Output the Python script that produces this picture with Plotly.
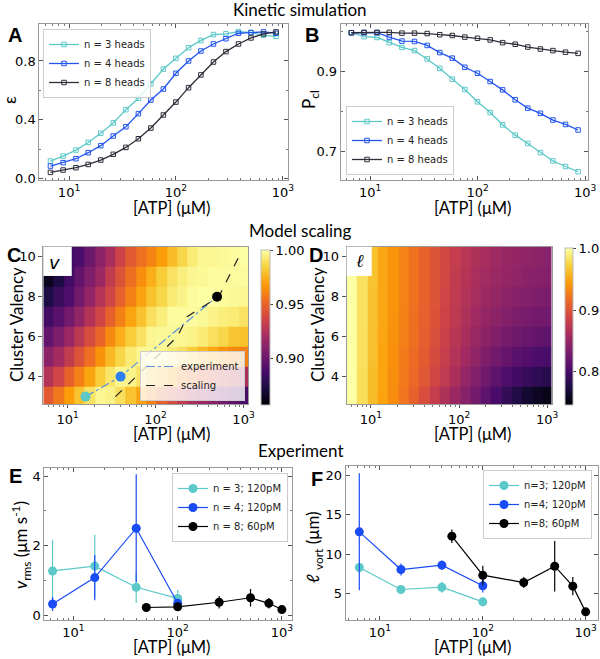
import plotly.graph_objects as go

# ---------------- data ----------------
# Panel A / B: kinetic simulation
atp_sim = [6.7, 8.8, 11.6, 15.1, 19.8, 25.9, 34.0, 44.5, 58.2, 76.2, 99.8, 131, 171, 224, 293, 384, 502, 658, 861]
eps_n3 = [0.118, 0.152, 0.193, 0.245, 0.307, 0.378, 0.468, 0.546, 0.645, 0.745, 0.818, 0.890, 0.940, 0.980, 0.985, 1.0, 0.995, 0.975, 0.968]
eps_n4 = [0.084, 0.107, 0.134, 0.175, 0.223, 0.289, 0.352, 0.441, 0.534, 0.609, 0.716, 0.800, 0.868, 0.916, 0.952, 0.989, 0.993, 0.998, 0.989]
eps_n8 = [0.041, 0.057, 0.073, 0.095, 0.125, 0.164, 0.211, 0.270, 0.343, 0.432, 0.520, 0.618, 0.705, 0.793, 0.864, 0.916, 0.957, 0.984, 0.998]
pcl_n3 = [0.998, 0.988, 0.986, 0.973, 0.961, 0.953, 0.932, 0.908, 0.881, 0.855, 0.824, 0.797, 0.766, 0.740, 0.719, 0.696, 0.675, 0.661, 0.648]
pcl_n4 = [0.998, 0.998, 0.998, 0.987, 0.977, 0.976, 0.966, 0.948, 0.934, 0.911, 0.896, 0.875, 0.854, 0.829, 0.808, 0.795, 0.778, 0.767, 0.753]
pcl_n8 = [0.998, 0.999, 0.999, 0.999, 0.997, 0.997, 0.996, 0.993, 0.991, 0.987, 0.984, 0.980, 0.973, 0.969, 0.962, 0.957, 0.953, 0.949, 0.946]
sim_names = ["n = 3 heads", "n = 4 heads", "n = 8 heads"]

# Panel C / D: model scaling heatmaps (rows: valency 3..10, columns: ATP bins)
atp_edges = [5.3, 6.95, 9.1, 11.9, 15.6, 20.4, 26.7, 35.0, 45.8, 60.0, 78.6, 103, 135, 176, 231, 302, 396, 518, 679, 889, 1124]
valency_edges = [2.5, 3.5, 4.5, 5.5, 6.5, 7.5, 8.5, 9.5, 10.5]
v_map = [
    [0.946, 0.957, 0.969, 0.980, 0.990, 0.997, 0.996, 0.989, 0.980, 0.971, 0.960, 0.949, 0.940, 0.931, 0.923, 0.917, 0.911, 0.903, 0.897, 0.888],  # 3
    [0.926, 0.937, 0.949, 0.960, 0.971, 0.983, 0.991, 0.997, 0.996, 0.990, 0.983, 0.976, 0.969, 0.961, 0.954, 0.947, 0.940, 0.934, 0.929, 0.923],  # 4
    [0.911, 0.920, 0.931, 0.943, 0.954, 0.966, 0.977, 0.986, 0.993, 0.997, 0.998, 0.997, 0.993, 0.989, 0.983, 0.977, 0.971, 0.966, 0.963, 0.960],  # 5
    [0.897, 0.906, 0.917, 0.929, 0.940, 0.951, 0.963, 0.974, 0.983, 0.990, 0.997, 0.998, 0.998, 0.997, 0.996, 0.993, 0.989, 0.986, 0.981, 0.979],  # 6
    [0.886, 0.894, 0.903, 0.914, 0.926, 0.937, 0.949, 0.960, 0.971, 0.980, 0.989, 0.994, 0.999, 0.999, 0.999, 0.998, 0.996, 0.994, 0.993, 0.990],  # 7
    [0.874, 0.883, 0.891, 0.903, 0.914, 0.926, 0.937, 0.949, 0.960, 0.971, 0.980, 0.986, 0.993, 0.996, 0.999, 1.000, 1.000, 0.999, 0.998, 0.997],  # 8
    [0.864, 0.874, 0.886, 0.897, 0.907, 0.917, 0.931, 0.943, 0.954, 0.964, 0.974, 0.983, 0.990, 0.994, 0.997, 0.998, 0.999, 0.999, 0.999, 0.999],  # 9
    [0.871, 0.878, 0.886, 0.889, 0.900, 0.911, 0.922, 0.936, 0.946, 0.954, 0.961, 0.969, 0.978, 0.986, 0.993, 0.997, 0.997, 0.998, 0.999, 1.000],  # 10
]
l_map = [
    [1.0, 0.980, 0.962, 0.947, 0.935, 0.922, 0.910, 0.895, 0.880, 0.865, 0.852, 0.840, 0.828, 0.815, 0.802, 0.790, 0.778, 0.767, 0.760, 0.755],  # 3
    [1.0, 0.980, 0.962, 0.948, 0.936, 0.925, 0.914, 0.902, 0.889, 0.876, 0.862, 0.849, 0.837, 0.825, 0.815, 0.806, 0.798, 0.791, 0.786, 0.782],  # 4
    [1.0, 0.981, 0.963, 0.948, 0.937, 0.926, 0.916, 0.905, 0.893, 0.881, 0.868, 0.856, 0.845, 0.835, 0.826, 0.819, 0.813, 0.808, 0.804, 0.801],  # 5
    [1.0, 0.981, 0.963, 0.949, 0.938, 0.928, 0.918, 0.907, 0.896, 0.884, 0.872, 0.861, 0.851, 0.843, 0.836, 0.830, 0.825, 0.821, 0.818, 0.815],  # 6
    [1.0, 0.982, 0.964, 0.950, 0.939, 0.929, 0.919, 0.909, 0.898, 0.886, 0.875, 0.865, 0.856, 0.849, 0.843, 0.838, 0.834, 0.831, 0.828, 0.826],  # 7
    [1.0, 0.982, 0.964, 0.950, 0.940, 0.930, 0.920, 0.910, 0.900, 0.888, 0.877, 0.868, 0.860, 0.853, 0.848, 0.843, 0.840, 0.837, 0.835, 0.833],  # 8
    [1.0, 0.982, 0.965, 0.950, 0.940, 0.930, 0.920, 0.910, 0.900, 0.890, 0.878, 0.870, 0.863, 0.857, 0.852, 0.848, 0.845, 0.842, 0.840, 0.838],  # 9
    [1.0, 0.983, 0.965, 0.950, 0.940, 0.930, 0.920, 0.910, 0.900, 0.890, 0.880, 0.872, 0.865, 0.860, 0.855, 0.850, 0.848, 0.845, 0.843, 0.840],  # 10
]
exp_atp = [16, 40, 500]
exp_valency = [3, 4, 8]
scaling_atp = [35, 60, 103, 177, 229, 525, 680, 885]
scaling_valency = [3, 4, 5, 6, 7, 8, 9, 10]

# Panel E / F: experiment
atp_exp34 = [6.3, 16, 40, 100]
atp_exp8 = [50, 100, 250, 500, 750, 1000]
vrms_n3 = [1.27, 1.41, 0.80, 0.48]
vrms_n3_err = [0.9, 0.9, 0.45, 0.25]
vrms_n4 = [0.32, 1.08, 2.50, 0.34]
vrms_n4_err = [0.2, 0.65, 1.55, 0.1]
vrms_n8 = [0.22, 0.24, 0.37, 0.50, 0.34, 0.16]
vrms_n8_err = [0.05, 0.05, 0.18, 0.25, 0.15, 0.05]
lvort_n3 = [8.31, 5.53, 5.82, 3.97]
lvort_n3_err = [0.4, 0.3, 0.7, 0.3]
lvort_n4 = [12.83, 8.06, 8.61, 6.00]
lvort_n4_err = [7.4, 0.75, 0.6, 0.85]
lvort_n8 = [12.28, 7.34, 6.41, 8.48, 5.95, 2.70]
lvort_n8_err = [0.85, 1.2, 0.7, 3.2, 1.15, 0.4]
exp_names_e = ["n = 3; 120pM", "n = 4; 120pM", "n = 8; 60pM"]
exp_names_f = ["n=3; 120pM", "n=4; 120pM", "n=8; 60pM"]

# ---------------- styles ----------------
CYAN = "#5cc8c8"
BLUE = "#2255ee"
DARK = "#2e2e3a"
BLACK = "#000000"
GRID = "#9a9a9a"
TICKF = dict(family="DejaVu Sans", size=13, color="black")
LABF = dict(family="Lato", size=17, color="black")
W, H = 600, 659

def fx(px):
    return px / W

def fy(py):
    return 1 - py / H

def dom_x(a, b):
    return [fx(a), fx(b)]

def dom_y(top, bottom):
    return [fy(bottom), fy(top)]

decade_vals = [10, 100, 1000]
decade_text = ["10<sup>1</sup>", "10<sup>2</sup>", "10<sup>3</sup>"]
minor_vals = [5, 6, 7, 8, 9, 20, 30, 40, 50, 60, 70, 80, 90, 200, 300, 400, 500, 600, 700, 800, 900]

fig = go.Figure()

# Panel A
for yv, col, nm in zip([eps_n3, eps_n4, eps_n8], [CYAN, BLUE, DARK], sim_names):
    fig.add_trace(go.Scatter(x=atp_sim, y=yv, name=nm, mode="lines+markers",
                             line=dict(color=col, width=1.3),
                             marker=dict(symbol="square-open", size=4.5, color=col, line=dict(width=1)),
                             xaxis="x", yaxis="y", legend="legend"))
# Panel B
for yv, col, nm in zip([pcl_n3, pcl_n4, pcl_n8], [CYAN, BLUE, DARK], sim_names):
    fig.add_trace(go.Scatter(x=atp_sim, y=yv, name=nm, mode="lines+markers",
                             line=dict(color=col, width=1.3),
                             marker=dict(symbol="square-open", size=4.5, color=col, line=dict(width=1)),
                             xaxis="x2", yaxis="y2", legend="legend2"))

# Panel C
fig.add_trace(go.Heatmap(x=atp_edges, y=valency_edges, z=v_map, coloraxis="coloraxis",
                         xaxis="x3", yaxis="y3", showlegend=False))
fig.add_trace(go.Scatter(x=exp_atp, y=exp_valency, name="experiment", mode="lines",
                         line=dict(color="#5a92e0", width=1.2, dash="dashdot"),
                         xaxis="x3", yaxis="y3", legend="legend3"))
fig.add_trace(go.Scatter(x=scaling_atp, y=scaling_valency, name="scaling", mode="lines",
                         line=dict(color="#222222", width=1.2, dash="dash"),
                         xaxis="x3", yaxis="y3", legend="legend3"))
fig.add_trace(go.Scatter(x=exp_atp, y=exp_valency, mode="markers", showlegend=False,
                         marker=dict(size=10, color=[CYAN, "#2f80f0", BLACK]),
                         xaxis="x3", yaxis="y3"))

# Panel D
fig.add_trace(go.Heatmap(x=atp_edges, y=valency_edges, z=l_map, coloraxis="coloraxis2",
                         xaxis="x4", yaxis="y4", showlegend=False))

# Panel E
for xv, yv, ev, col, nm in zip([atp_exp34, atp_exp34, atp_exp8],
                               [vrms_n3, vrms_n4, vrms_n8],
                               [vrms_n3_err, vrms_n4_err, vrms_n8_err],
                               [CYAN, "#1a4cf5", BLACK], exp_names_e):
    fig.add_trace(go.Scatter(x=xv, y=yv, name=nm, mode="lines+markers",
                             line=dict(color=col, width=1.2),
                             marker=dict(size=9, color=col),
                             error_y=dict(type="data", array=ev, color=col, thickness=1.2, width=0),
                             xaxis="x5", yaxis="y5", legend="legend4"))
# Panel F
for xv, yv, ev, col, nm in zip([atp_exp34, atp_exp34, atp_exp8],
                               [lvort_n3, lvort_n4, lvort_n8],
                               [lvort_n3_err, lvort_n4_err, lvort_n8_err],
                               [CYAN, "#1a4cf5", BLACK], exp_names_f):
    fig.add_trace(go.Scatter(x=xv, y=yv, name=nm, mode="lines+markers",
                             line=dict(color=col, width=1.2),
                             marker=dict(size=9, color=col),
                             error_y=dict(type="data", array=ev, color=col, thickness=1.2, width=0),
                             xaxis="x6", yaxis="y6", legend="legend5"))

def xlog(domain, rng, anchor, ticks="inside", mirror="allticks", ticklen=4):
    return dict(type="log", domain=domain, range=rng, anchor=anchor,
                tickmode="array", tickvals=decade_vals, ticktext=decade_text,
                ticks=ticks, ticklen=ticklen, tickcolor="#555", tickwidth=1,
                minor=dict(tickmode="array", tickvals=minor_vals, ticks=ticks, ticklen=2, tickcolor="#777"),
                showline=True, linecolor=GRID, linewidth=1, mirror=mirror,
                showgrid=False, zeroline=False, tickfont=TICKF, automargin=False)

def ylin(domain, rng, anchor, tickvals, minor_vals_y, ticks="inside", mirror="allticks", ticktext=None):
    d = dict(domain=domain, range=rng, anchor=anchor, tickmode="array", tickvals=tickvals,
             ticks=ticks, ticklen=4, tickcolor="#555", tickwidth=1,
             showline=True, linecolor=GRID, linewidth=1, mirror=mirror,
             showgrid=False, zeroline=False, tickfont=TICKF, automargin=False)
    if ticktext is not None:
        d["ticktext"] = ticktext
    if minor_vals_y:
        d["minor"] = dict(tickmode="array", tickvals=minor_vals_y, ticks=ticks, ticklen=2, tickcolor="#777")
    return d

legend_common = dict(bgcolor="rgba(255,255,255,0.8)", bordercolor="#cccccc", borderwidth=1,
                     font=dict(family="DejaVu Sans", size=10, color="#222"),
                     itemwidth=30, tracegroupgap=0)

fig.update_layout(
    width=W, height=H, margin=dict(l=0, r=0, t=0, b=0, autoexpand=False),
    paper_bgcolor="white", plot_bgcolor="white",
    xaxis=xlog(dom_x(39.3, 288.3), [0.722, 3.05], "y"),
    yaxis=ylin(dom_y(24, 180), [-0.011, 1.052], "x", [0.0, 0.4, 0.8], [0.2, 0.6],
               ticktext=["0.0", "0.4", "0.8"]),
    xaxis2=xlog(dom_x(340.7, 588.3), [0.727, 3.03], "y2"),
    yaxis2=ylin(dom_y(24, 180), [0.627, 1.02], "x2", [0.7, 0.9], [0.8, 1.0]),
    xaxis3=xlog(dom_x(43.3, 248), [0.7243, 3.0508], "y3", ticks="outside", mirror=True, ticklen=3),
    yaxis3=ylin(dom_y(246.7, 404), [2.63, 10.5], "x3", [4, 6, 8, 10], None,
                ticks="outside", mirror=True),
    xaxis4=xlog(dom_x(346.7, 551.7), [0.7243, 3.0508], "y4", ticks="outside", mirror=True, ticklen=3),
    yaxis4=ylin(dom_y(246.7, 404), [2.63, 10.5], "x4", [4, 6, 8, 10], None,
                ticks="outside", mirror=True),
    xaxis5=xlog(dom_x(44.3, 292.3), [0.72, 3.10], "y5"),
    yaxis5=ylin(dom_y(467.7, 620), [-0.14, 4.24], "x5", [0, 2, 4], [1, 3]),
    xaxis6=xlog(dom_x(345.7, 597.7), [0.667, 3.117], "y6"),
    yaxis6=ylin(dom_y(465.7, 620), [1.67, 21.2], "x6", [5, 10, 15, 20], None),
    coloraxis=dict(colorscale="Inferno", cmin=0.857, cmax=1.0,
                   colorbar=dict(x=fx(261), xanchor="left", y=fy(250), yanchor="top",
                                 len=155 / H, lenmode="fraction", thickness=9, xpad=0, ypad=0,
                                 outlinewidth=1, outlinecolor="#bbbbbb",
                                 tickmode="array", tickvals=[0.90, 0.95, 1.00],
                                 ticktext=["0.90", "0.95", "1.00"],
                                 ticks="outside", ticklen=3, tickfont=TICKF)),
    coloraxis2=dict(colorscale="Inferno", cmin=0.746, cmax=1.0,
                    colorbar=dict(x=fx(565), xanchor="left", y=fy(248.3), yanchor="top",
                                  len=156.7 / H, lenmode="fraction", thickness=8, xpad=0, ypad=0,
                                  outlinewidth=1, outlinecolor="#bbbbbb",
                                  tickmode="array", tickvals=[0.8, 0.9, 1.0],
                                  ticktext=["0.8", "0.9", "1.0"],
                                  ticks="outside", ticklen=3, tickfont=TICKF)),
    legend=dict(x=fx(43), y=fy(29), xanchor="left", yanchor="top", **legend_common),
    legend2=dict(x=fx(346), y=fy(175), xanchor="left", yanchor="bottom", **legend_common),
    legend3=dict(x=fx(245), y=fy(401), xanchor="right", yanchor="bottom", **legend_common),
    legend4=dict(x=fx(288), y=fy(473), xanchor="right", yanchor="top", **legend_common),
    legend5=dict(x=fx(592), y=fy(470), xanchor="right", yanchor="top", **legend_common),
    showlegend=True,
)

# white label boxes on the heatmaps
fig.add_shape(type="rect", xref="x3 domain", yref="y3 domain", x0=0, x1=0.139, y0=0.814, y1=1,
              fillcolor="white", line=dict(width=0), layer="above")
fig.add_shape(type="rect", xref="x4 domain", yref="y4 domain", x0=0, x1=0.122, y0=0.814, y1=1,
              fillcolor="white", line=dict(width=0), layer="above")

def text_at(t, px, py, font, angle=0):
    fig.add_annotation(xref="paper", yref="paper", showarrow=False, x=fx(px), y=fy(py),
                       text=t, font=font, textangle=angle,
                       xanchor="center", yanchor="middle")

# section titles
for t, px, py in [("Kinetic simulation", 300, 10), ("Model scaling", 300, 230), ("Experiment", 300, 450)]:
    text_at(t, px, py, dict(family="Lato", size=17, color="black"))

# axis titles
for px, py in [(172, 208), (472.5, 208), (172, 434), (472.5, 434), (172, 647), (472.5, 647)]:
    text_at("[ATP] (μM)", px, py, dict(family="Lato", size=16.5, color="black"))
y_titles = [("ε", 9, 100), ("P<sub>cl</sub>", 310, 100),
            ("Cluster Valency", 16, 325), ("Cluster Valency", 317, 325),
            ("<i>v</i><sub>rms</sub> (μm s<sup>-1</sup>)", 21, 545),
            ("<i>ℓ</i> <sub>vort</sub> (μm)", 314, 547)]
for t, px, py in y_titles:
    text_at(t, px, py, LABF, angle=-90)

# panel letters
for t, px, py in [("A", 15, 35), ("B", 312, 35), ("C", 14, 255), ("D", 316, 255), ("E", 15, 476), ("F", 317, 479)]:
    text_at("<b>" + t + "</b>", px, py, dict(family="Liberation Sans", size=20, color="black"))

text_at("<i>v</i>", 55, 262, dict(family="DejaVu Sans", size=18, color="black"))
text_at("<i>ℓ</i>", 360, 260, dict(family="DejaVu Serif", size=18, color="black"))

# the page's default 8 px body margin would shift the 600x659 figure; remove it
fig.write_html("out.html", config={"displayModeBar": False},
               post_script="document.body.style.margin='0px';")
